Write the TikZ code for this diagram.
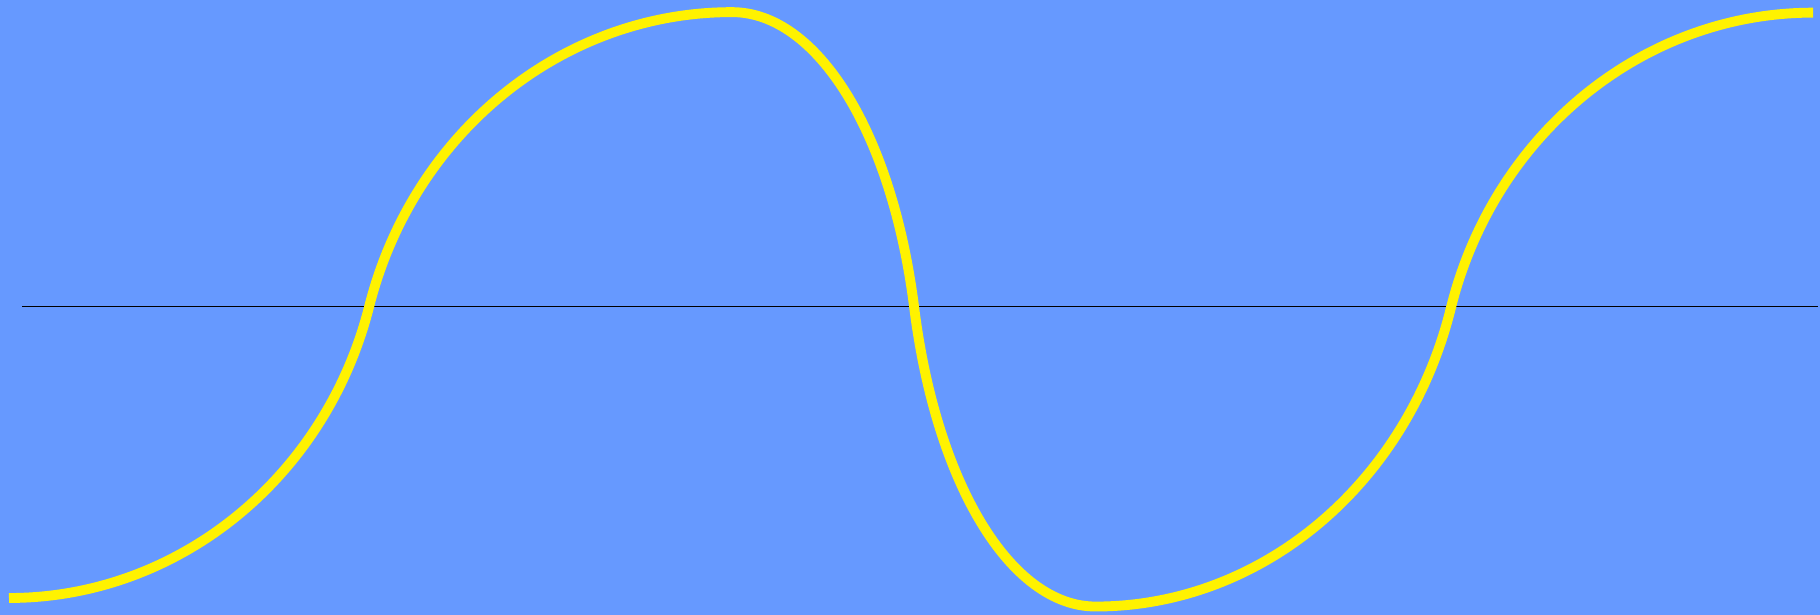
\documentclass[tikz,border=0pt]{standalone}
\definecolor{skyblue}{RGB}{102,153,255}

\begin{document}
\begin{tikzpicture}[
  x=0.01cm, y=0.01cm,
  wave/.style={draw=yellow, line width=2.8pt},
  axisline/.style={draw=black, line width=0.45pt}
]
\fill[skyblue] (0,0) rectangle (1820,615);
\useasboundingbox (0,0) rectangle (1820,615);

\coordinate (start) at (9,17);
\coordinate (left) at (22,308.5);
\coordinate (right) at (1818,308.5);

\draw[axisline] (left) -- (right);

\draw[wave] (start)
  arc[start angle=-90, end angle=-15, x radius=3.727cm, y radius=3.933cm] coordinate (cross1)
  arc[start angle=165, end angle=90, x radius=3.753cm, y radius=3.967cm] coordinate (top)
  arc[start angle=90, end angle=15, x radius=1.884cm, y radius=3.967cm] coordinate (cross2)
  arc[start angle=195, end angle=270, x radius=1.879cm, y radius=4.048cm] coordinate (bottom)
  arc[start angle=-90, end angle=-15, x radius=3.680cm, y radius=4.048cm] coordinate (cross3)
  arc[start angle=165, end angle=90, x radius=3.743cm, y radius=3.960cm] coordinate (finish);
\end{tikzpicture}
\end{document}
